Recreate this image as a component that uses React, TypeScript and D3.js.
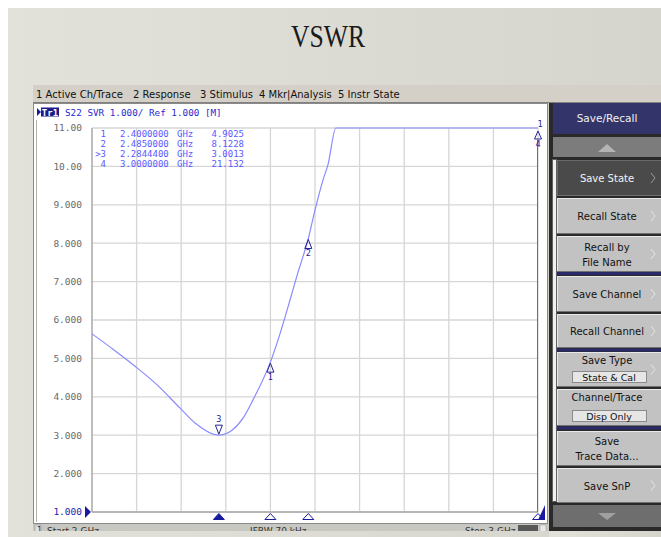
import React from "react";
import * as d3 from "d3";

const W = 661;
const H = 537;

// Trace data: frequency (GHz) and VSWR
const freqs = [2.0, 2.047, 2.096, 2.146, 2.197, 2.231, 2.2844, 2.314, 2.339, 2.361, 2.4, 2.422, 2.444, 2.46, 2.485, 2.5, 2.518, 2.529, 2.547, 2.6, 2.7, 2.8, 2.9, 3.0];
const vswr = [5.64, 5.24, 4.8, 4.31, 3.71, 3.32, 3.0013, 3.13, 3.45, 3.92, 4.9025, 5.66, 6.52, 7.17, 8.1228, 8.86, 9.65, 10.04, 11.0, 12.6, 15.5, 18.0, 19.8, 21.132];

// Markers
const markerIds = ["1", "2", "3", "4"];
const markerFreqs = [2.4, 2.485, 2.28444, 3.0];
const markerVals = [4.9025, 8.1228, 3.0013, 21.132];
const markerFreqText = ["2.4000000", "2.4850000", "2.2844400", "3.0000000"];
const markerValText = ["4.9025", "8.1228", "3.0013", "21.132"];
const activeMarker = 2;

const yTicks = [11, 10, 9, 8, 7, 6, 5, 4, 3, 2, 1];
const yTickLabels = ["11.00", "10.00", "9.000", "8.000", "7.000", "6.000", "5.000", "4.000", "3.000", "2.000", "1.000"];
const xTicks = [2.0, 2.1, 2.2, 2.3, 2.4, 2.5, 2.6, 2.7, 2.8, 2.9, 3.0];

const menuItems = ["1 Active Ch/Trace", "2 Response", "3 Stimulus", "4 Mkr|Analysis", "5 Instr State"];
const menuX = [36, 133, 200, 259, 338];

const buttons = [
  { lines: ["Save State"], y0: 160, y1: 196, dark: true, arrow: true },
  { lines: ["Recall State"], y0: 198, y1: 234, arrow: true },
  { lines: ["Recall by", "File Name"], y0: 236, y1: 272, arrow: true },
  { lines: ["Save Channel"], y0: 276, y1: 312, arrow: true },
  { lines: ["Recall Channel"], y0: 314, y1: 348, arrow: true },
  { lines: ["Save Type"], box: "State & Cal", y0: 352, y1: 387, arrow: true },
  { lines: ["Channel/Trace"], box: "Disp Only", y0: 389, y1: 426 },
  { lines: ["Save", "Trace Data..."], y0: 431, y1: 466 },
  { lines: ["Save SnP"], y0: 468, y1: 503, arrow: true },
];

const MONO = "'DejaVu Sans Mono', 'Liberation Mono', monospace";
const SANS = "'DejaVu Sans', 'Liberation Sans', sans-serif";

export default function App() {
  const x = d3.scaleLinear().domain([2, 3]).range([92, 538]);
  const y = d3.scaleLinear().domain([1, 11]).range([512, 128]).clamp(true);
  const pts: [number, number][] = freqs.map((f, i) => [f, vswr[i]]);
  const line = d3
    .line<[number, number]>()
    .x((d) => x(d[0]))
    .y((d) => y(d[1]))
    .curve(d3.curveMonotoneX);

  const traceColor = "#8a8aff";
  const mkColor = "#22229a";
  const tableColor = "#5a5aff";

  return (
    <svg width={W} height={H} style={{ position: "absolute", left: 0, top: 0 }} xmlns="http://www.w3.org/2000/svg">
      <defs>
        <linearGradient id="bg" x1="0" x2="1" y1="0" y2="0">
          <stop offset="0" stopColor="#e2e2db" />
          <stop offset="1" stopColor="#d5d5cd" />
        </linearGradient>
        <clipPath id="statusClip">
          <rect x={0} y={0} width={W} height={531} />
        </clipPath>
      </defs>
      <rect x={0} y={0} width={W} height={H} fill="#ffffff" />
      <rect x={8} y={8} width={W - 8} height={H - 8} fill="url(#bg)" />

      {/* Title */}
      <text x={328} y={47} textAnchor="middle" fontFamily="'Liberation Serif', 'DejaVu Serif', serif" fontSize={31} textLength={74} lengthAdjust="spacingAndGlyphs" fill="#1a1a1a">
        VSWR
      </text>

      {/* Menu bar */}
      <rect x={33} y={85} width={W - 33} height={18} fill="#d4d0c8" />
      <line x1={33} x2={W} y1={102.5} y2={102.5} stroke="#808080" />
      {menuItems.map((m, i) => (
        <text key={m} x={menuX[i]} y={97.5} fontFamily={SANS} fontSize={10} fill="#111">
          {m}
        </text>
      ))}

      {/* Chart window */}
      <rect x={33} y={103} width={516} height={428} fill="#d4d0c8" />
      <rect x={33.5} y={103.5} width={514} height={420} fill="#ffffff" stroke="#8a8a8a" />
      <line x1={36.5} x2={36.5} y1={120} y2={522} stroke="#b0b0b0" />

      {/* Header */}
      <path d="M37,108 L41,112 L37,116 Z" fill="#1a1aa0" />
      <rect x={41} y={107.5} width={18} height={9} fill="#1a1a8a" />
      <text x={50} y={115.5} textAnchor="middle" fontFamily={MONO} fontSize={9} fontWeight="bold" fill="#fff">Tr1</text>
      <text x={65} y={115.5} fontFamily={MONO} fontSize={9.3} fill="#2a2ad0">
        S22 SVR 1.000/ Ref 1.000 [M]
      </text>

      {/* Grid */}
      {xTicks.map((t) => (
        <line key={"gx" + t} x1={x(t)} x2={x(t)} y1={128} y2={512} stroke="#d6d6d6" strokeWidth={1.3} />
      ))}
      {yTicks.map((t) => (
        <line key={"gy" + t} x1={92} x2={538} y1={y(t)} y2={y(t)} stroke="#d6d6d6" strokeWidth={1.3} />
      ))}
      <line x1={92} x2={92} y1={128} y2={512} stroke="#a8a8a8" strokeWidth={1.3} />
      <line x1={92} x2={538} y1={512} y2={512} stroke="#a8a8a8" strokeWidth={1.3} />
      <line x1={537.5} x2={537.5} y1={140} y2={512} stroke="#707070" strokeWidth={1} />

      {/* Y labels */}
      {yTicks.map((t, i) => (
        <text
          key={"yl" + t}
          x={82}
          y={y(t)}
          dy="0.35em"
          textAnchor="end"
          fontFamily={MONO}
          fontSize={9.5}
          fill={t === 1 ? "#2020b0" : "#6a6a6a"}
        >
          {yTickLabels[i]}
        </text>
      ))}
      <path d="M85,506 L91,512 L85,518 Z" fill="#1a1aa0" />

      {/* Trace */}
      <path d={line(pts) || ""} fill="none" stroke={traceColor} strokeWidth={1.2} />

      {/* Marker table */}
      {markerIds.map((id, i) => {
        const ry = 134 + i * 10;
        return (
          <g key={"mt" + id} fontFamily={MONO} fontSize={9} fill={tableColor}>
            <text x={106} y={ry} dy="0.35em" textAnchor="end">{(i === activeMarker ? ">" : "") + id}</text>
            <text x={120} y={ry} dy="0.35em">{markerFreqText[i]}</text>
            <text x={177} y={ry} dy="0.35em">GHz</text>
            <text x={244} y={ry} dy="0.35em" textAnchor="end">{markerValText[i]}</text>
          </g>
        );
      })}

      {/* Markers on trace */}
      {markerIds.map((id, i) => {
        const mx = x(markerFreqs[i]);
        const my = y(markerVals[i]);
        if (i === 3) {
          return (
            <g key={"mk" + id} fontFamily={MONO} fontSize={8.5} fill={mkColor}>
              <text x={540} y={127} textAnchor="middle">1</text>
              <path d={`M${mx},${my + 3} L${mx + 3.5},${my + 11} L${mx - 3.5},${my + 11} Z`} fill="none" stroke={mkColor} strokeWidth={1} />
              <text x={mx} y={my + 19} textAnchor="middle">4</text>
            </g>
          );
        }
        if (i === activeMarker) {
          return (
            <g key={"mk" + id} fontFamily={MONO} fontSize={8.5} fill={mkColor}>
              <text x={mx} y={my - 13} textAnchor="middle">{id}</text>
              <path d={`M${mx},${my - 1} L${mx + 3.5},${my - 10} L${mx - 3.5},${my - 10} Z`} fill="none" stroke={mkColor} strokeWidth={1} />
            </g>
          );
        }
        return (
          <g key={"mk" + id} fontFamily={MONO} fontSize={8.5} fill={mkColor}>
            <path d={`M${mx},${my + 1} L${mx + 3.5},${my + 10} L${mx - 3.5},${my + 10} Z`} fill="none" stroke={mkColor} strokeWidth={1} />
            <text x={mx} y={my + 18} textAnchor="middle">{id}</text>
          </g>
        );
      })}

      {/* Bottom marker indicators */}
      {markerIds.map((id, i) => {
        const mx = x(markerFreqs[i]);
        return (
          <path
            key={"bm" + id}
            d={`M${mx},${513.5} L${mx + 5.5},${519.5} L${mx - 5.5},${519.5} Z`}
            fill={i === activeMarker ? "#1a1aa0" : "#ffffff"}
            stroke="#1a1aa0"
            strokeWidth={1}
          />
        );
      })}
      <path d="M545,505 L545,520 L538,520 Z" fill="#1a1aa0" />

      {/* Status bar */}
      <g clipPath="url(#statusClip)">
        <rect x={33} y={524} width={516} height={10} fill="#c8c8c2" />
        <rect x={35} y={525} width={6} height={8} fill="#e0e0e0" stroke="#888" strokeWidth={0.5} />
        <text x={37} y={533} fontFamily={SANS} fontSize={8} fill="#333">1</text>
        <text x={47} y={534} fontFamily={SANS} fontSize={9} fill="#333">Start 2 GHz</text>
        <text x={250} y={534} fontFamily={SANS} fontSize={9} fill="#333">IFBW 70 kHz</text>
        <text x={465} y={534} fontFamily={SANS} fontSize={9} fill="#333">Stop 3 GHz</text>
        <rect x={518} y={525} width={20} height={8} fill="#585858" />
        <rect x={540} y={525} width={6} height={8} fill="#e8e8e8" stroke="#999" strokeWidth={0.5} />
      </g>

      {/* Right panel */}
      <rect x={549} y={103} width={112} height={428} fill="#2a2a2a" />
      <rect x={553} y={103} width={108} height={31} fill="#33356a" />
      <text x={607} y={122} textAnchor="middle" fontFamily={SANS} fontSize={10.5} fill="#f0f0f0">Save/Recall</text>
      <rect x={553} y={137} width={108} height={20} fill="#7c7c7c" />
      <path d="M598,152 L616,152 L607,144 Z" fill="#b4b4b4" />
      <rect x={552.5} y={159.5} width={4} height={342} fill="#f0f0f0" stroke="#606060" />
      {buttons.map((b) => {
        const cy = (b.y0 + b.y1) / 2;
        const hasBox = !!b.box;
        const textFill = b.dark ? "#f4f4f4" : "#111";
        const lineStart = hasBox ? b.y0 + 12 : cy - (b.lines.length - 1) * 7.5 + 4;
        return (
          <g key={b.lines.join("")}>
            <rect x={557} y={b.y0} width={104} height={b.y1 - b.y0} fill={b.dark ? "#4a4a4a" : "#c2c2c2"} />
            <line x1={557} x2={661} y1={b.y0 + 0.5} y2={b.y0 + 0.5} stroke={b.dark ? "#6a6a6a" : "#e8e8e8"} />
            <line x1={557.5} x2={557.5} y1={b.y0} y2={b.y1} stroke={b.dark ? "#6a6a6a" : "#e8e8e8"} />
            <line x1={557} x2={661} y1={b.y1 - 0.5} y2={b.y1 - 0.5} stroke="#707070" />
            {b.lines.map((l, j) => (
              <text key={l} x={607} y={lineStart + j * 15} textAnchor="middle" fontFamily={SANS} fontSize={10} fill={textFill}>
                {l}
              </text>
            ))}
            {hasBox && (
              <g>
                <rect x={572.5} y={b.y1 - 15.5} width={74} height={11} fill="#e6e6e6" stroke="#8a8a8a" />
                <text x={609} y={b.y1 - 6.5} textAnchor="middle" fontFamily={SANS} fontSize={9.5} fill="#111">{b.box}</text>
              </g>
            )}
            {b.arrow && (
              <path d={`M651,${cy - 5} L655,${cy} L651,${cy + 5}`} fill="none" stroke={b.dark ? "#9a9a9a" : "#e6e6e6"} strokeWidth={1} />
            )}
          </g>
        );
      })}
      <rect x={557} y={272} width={104} height={3} fill="#2a2a6a" />
      <rect x={557} y={348.5} width={104} height={3} fill="#2a2a6a" />
      <rect x={557} y={426.5} width={104} height={3} fill="#2a2a6a" />
      <rect x={553} y={505} width={108} height={22} fill="#6e6e6e" />
      <path d="M598,513 L616,513 L607,520 Z" fill="#a0a0a0" />
      <rect x={549} y={531} width={112} height={6} fill="url(#bg)" />
    </svg>
  );
}
